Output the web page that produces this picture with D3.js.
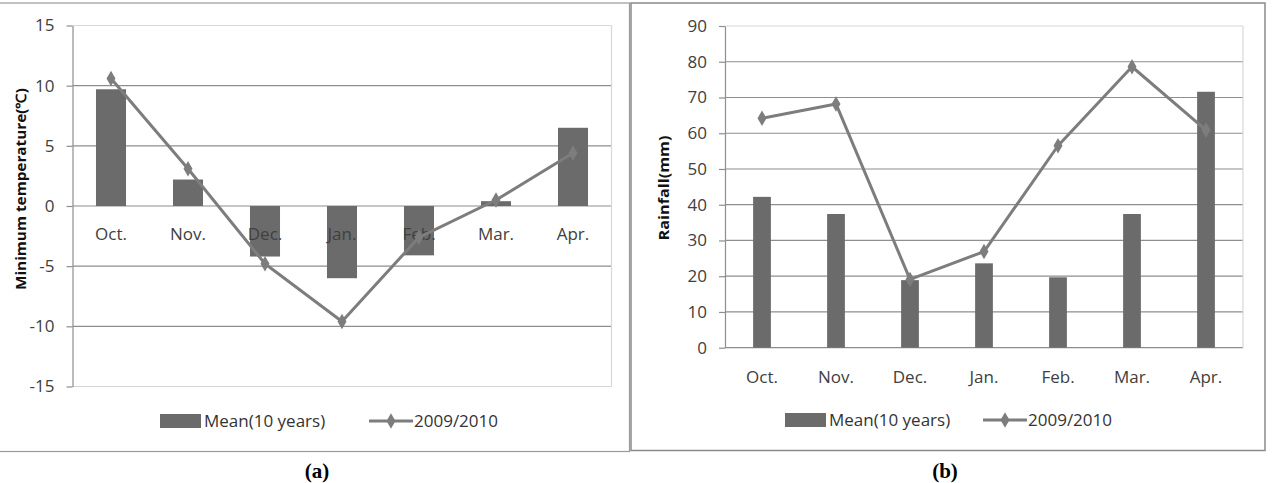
<!DOCTYPE html>
<html lang="en">
<head>
  <meta charset="UTF-8">
  <title>Minimum temperature and rainfall</title>
  <script src="https://d3js.org/d3.v7.min.js"></script>
  <style>
    body {
      margin: 0;
      padding: 0;
      background: #fff;
    }
    svg {
      display: block;
    }
    .tick text {
      font-family: "Open Sans", Lato, sans-serif;
      fill: #404040;
    }
    .legend text {
      font-family: "Open Sans", Lato, sans-serif;
      font-size: 17px;
      fill: #333;
    }
    .ytitle {
      font-family: "Open Sans", Lato, sans-serif;
      font-weight: bold;
      font-size: 14px;
      fill: #111;
    }
    .caption {
      font-family: "Liberation Serif", "DejaVu Serif", serif;
      font-weight: bold;
      font-size: 21px;
      fill: #000;
    }
  </style>
</head>
<body>
  <svg id="chart" width="1276" height="483"></svg>

  <script>
    // data
    const months = ["Oct.", "Nov.", "Dec.", "Jan.", "Feb.", "Mar.", "Apr."];
    const tempMean = [9.7, 2.2, -4.2, -6.0, -4.1, 0.4, 6.5];
    const temp0910 = [10.6, 3.1, -4.8, -9.6, -2.6, 0.5, 4.4];
    const rainMean = [42.2, 37.4, 18.9, 23.6, 19.7, 37.4, 71.6];
    const rain0910 = [64.2, 68.2, 19.1, 26.9, 56.5, 78.6, 60.9];
    const tempTicks = [-15, -10, -5, 0, 5, 10, 15];
    const rainTicks = [0, 10, 20, 30, 40, 50, 60, 70, 80, 90];
    const seriesNames = ["Mean(10 years)", "2009/2010"];

    const barColor = "#6b6b6b";
    const lineColor = "#7d7d7d";
    const gridColor = "#8e8e8e";
    const borderColor = "#d8d8d8";

    const svg = d3.select("#chart");

    // panel frames
    svg.append("rect")
      .attr("x", -2).attr("y", 3)
      .attr("width", 631.5).attr("height", 448.5)
      .attr("fill", "none").attr("stroke", "#999").attr("stroke-width", 1.2);
    svg.append("rect")
      .attr("x", 631).attr("y", 3)
      .attr("width", 634).attr("height", 447.5)
      .attr("fill", "none").attr("stroke", "#8a8a8a").attr("stroke-width", 1.5);

    function drawPanel(cfg) {
      const g = svg.append("g");

      const x = d3.scaleBand()
        .domain(months)
        .range([cfg.left, cfg.right]);

      const y = d3.scaleLinear()
        .domain(d3.extent(cfg.ticks))
        .range([cfg.bottom, cfg.top]);

      // gridlines
      g.append("g")
        .selectAll("line")
        .data(cfg.ticks)
        .join("line")
        .attr("x1", cfg.left)
        .attr("x2", cfg.right)
        .attr("y1", d => y(d))
        .attr("y2", d => y(d))
        .attr("stroke", d => (d === cfg.ticks[cfg.ticks.length - 1] || (d === cfg.ticks[0] && d !== 0)) ? borderColor : gridColor)
        .attr("stroke-width", 1.2);

      // plot area right border
      g.append("line")
        .attr("x1", cfg.right).attr("x2", cfg.right)
        .attr("y1", cfg.top).attr("y2", cfg.bottom)
        .attr("stroke", borderColor).attr("stroke-width", 1.2);

      // y axis
      const yAxis = g.append("g")
        .attr("transform", `translate(${cfg.left},0)`)
        .call(d3.axisLeft(y).tickValues(cfg.ticks).tickFormat(d => String(d))
          .tickSize(6).tickPadding(12).tickSizeOuter(0));
      yAxis.select(".domain").attr("stroke", gridColor).attr("stroke-width", 1.2);
      yAxis.selectAll(".tick line").attr("stroke", gridColor).attr("stroke-width", 1.2);
      yAxis.selectAll(".tick text").style("font-size", "17px");

      // bars
      const bw = x.bandwidth() * cfg.barFrac;
      g.append("g")
        .selectAll("rect")
        .data(cfg.bars)
        .join("rect")
        .attr("x", (d, i) => x(months[i]) + (x.bandwidth() - bw) / 2)
        .attr("width", bw)
        .attr("y", d => y(Math.max(0, d)))
        .attr("height", d => Math.abs(y(d) - y(0)))
        .attr("fill", barColor);

      // category labels
      const xAxis = g.append("g")
        .attr("transform", `translate(0,${y(0) + cfg.labelGap})`)
        .call(d3.axisBottom(x).tickSize(0).tickPadding(0));
      xAxis.select(".domain").remove();
      xAxis.selectAll(".tick text").style("font-size", "17px").attr("dy", "0.35em");

      // 2009/2010 line
      const line = d3.line()
        .x((d, i) => x(months[i]) + x.bandwidth() / 2)
        .y(d => y(d));
      g.append("path")
        .datum(cfg.line)
        .attr("d", line)
        .attr("fill", "none")
        .attr("stroke", lineColor)
        .attr("stroke-width", 3)
        .attr("stroke-linejoin", "round");

      const diamond = d3.symbol().type(d3.symbolDiamond).size(70);
      g.append("g")
        .selectAll("path")
        .data(cfg.line)
        .join("path")
        .attr("transform", (d, i) => `translate(${x(months[i]) + x.bandwidth() / 2},${y(d)})`)
        .attr("d", diamond)
        .attr("fill", lineColor);

      // y title
      g.append("text")
        .attr("class", "ytitle")
        .attr("transform", `translate(${cfg.titleX},${cfg.titleY}) rotate(-90)`)
        .attr("text-anchor", "middle")
        .attr("dy", "0.35em")
        .attr("textLength", cfg.titleLen)
        .attr("lengthAdjust", "spacingAndGlyphs")
        .text(cfg.title);

      // legend
      const legend = g.append("g").attr("class", "legend");
      legend.append("rect")
        .attr("x", cfg.legX).attr("y", cfg.legY - 7)
        .attr("width", 41).attr("height", 14)
        .attr("fill", barColor);
      legend.append("text")
        .attr("x", cfg.legX + 44).attr("y", cfg.legY)
        .attr("dy", "0.35em")
        .text(seriesNames[0]);
      legend.append("line")
        .attr("x1", cfg.leg2X).attr("x2", cfg.leg2X + 44)
        .attr("y1", cfg.legY).attr("y2", cfg.legY)
        .attr("stroke", lineColor).attr("stroke-width", 3);
      legend.append("path")
        .attr("transform", `translate(${cfg.leg2X + 22},${cfg.legY})`)
        .attr("d", diamond)
        .attr("fill", lineColor);
      legend.append("text")
        .attr("x", cfg.leg2X + 45).attr("y", cfg.legY)
        .attr("dy", "0.35em")
        .text(seriesNames[1]);

      // caption
      g.append("text")
        .attr("class", "caption")
        .attr("x", cfg.capX).attr("y", 478)
        .attr("text-anchor", "middle")
        .text(cfg.caption);
    }

    drawPanel({
      left: 72.5, right: 611.5, top: 25.5, bottom: 386.5,
      ticks: tempTicks, bars: tempMean, line: temp0910, barFrac: 0.39,
      labelGap: 28, title: "Minimum temperature(\u2103)",
      titleX: 21, titleY: 189, titleLen: 202,
      legX: 160, leg2X: 369, legY: 421,
      capX: 317, caption: "(a)"
    });

    drawPanel({
      left: 725, right: 1243, top: 26, bottom: 347.7,
      ticks: rainTicks, bars: rainMean, line: rain0910, barFrac: 0.24,
      labelGap: 29, title: "Rainfall(mm)",
      titleX: 664, titleY: 188, titleLen: 105,
      legX: 785, leg2X: 983, legY: 420,
      capX: 945, caption: "(b)"
    });
  </script>
</body>
</html>
